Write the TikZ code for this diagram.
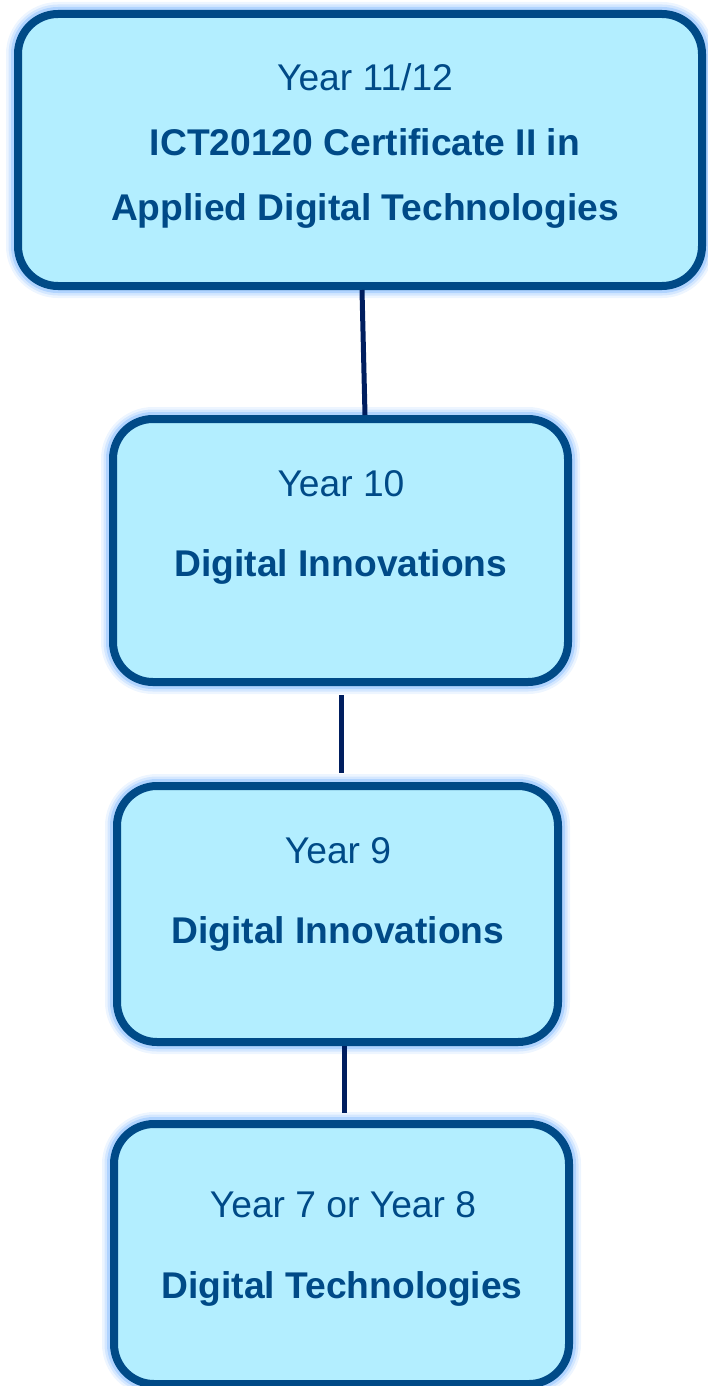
\documentclass[tikz,border=0pt]{standalone}
\usepackage{fontspec}
\setmainfont{Liberation Sans}
\usepackage{tikz}
\usetikzlibrary{positioning}

\definecolor{boxfill}{RGB}{179,238,255}
\definecolor{boxline}{RGB}{0,74,135}
\definecolor{glow}{RGB}{110,175,255}
\definecolor{joinline}{RGB}{0,30,95}

\tikzset{
    yearbox/.style={draw=boxline,fill=boxfill,line width=8pt,rounded corners=40pt,inner sep=0pt,
        preaction={draw=glow,line width=24pt,draw opacity=0.12},
        preaction={draw=glow,line width=19pt,draw opacity=0.2},
        preaction={draw=glow,line width=14pt,draw opacity=0.35}},
    yeartext/.style={text=boxline,anchor=base,inner sep=0pt,font=\fontsize{37.2}{44}\selectfont},
    coursetext/.style={yeartext,font=\fontsize{37.2}{44}\selectfont\bfseries},
    joinline/.style={draw=joinline,line width=5pt}
}

\begin{document}
\begin{tikzpicture}[x=1pt,y=-1pt]
        \useasboundingbox (0,0) rectangle (707,1386);

        % the four year boxes
        \node [yearbox,minimum width=684pt,minimum height=272pt] (y12) at (360,150) {};
        \node [yearbox,minimum width=455pt,minimum height=263pt] (y10) at (340.5,550.5) {};
        \node [yearbox,minimum width=441pt,minimum height=256pt] (y9) at (337.5,914) {};
        \node [yearbox,minimum width=455pt,minimum height=260pt] (y7) at (341.5,1254) {};

        \node [yeartext] (y12a) at (365,91) {Year 11/12};
        \node [coursetext] (y12b) at (365,155) {ICT20120 Certificate II in};
        \node [coursetext] (y12c) at (365,220) {Applied Digital Technologies};

        \node [yeartext] (y10a) at (341,496) {Year 10};
        \node [coursetext] (y10b) at (341,576) {Digital Innovations};

        \node [yeartext] (y9a) at (338,863) {Year 9};
        \node [coursetext] (y9b) at (338,943) {Digital Innovations};

        \node [yeartext] (y7a) at (343,1217) {Year 7 or Year 8};
        \node [coursetext] (y7b) at (342,1298) {Digital Technologies};

        % connectors
        \draw [joinline] ([xshift=2pt]y12.south) -- ([xshift=24.5pt]y10.north);
        \draw [joinline,shorten <=9pt,shorten >=9pt] ([xshift=0.5pt]y10.south) -- ([xshift=3.5pt]y9.north);
        \draw [joinline,shorten >=7pt] ([xshift=7pt]y9.south) -- ([xshift=3pt]y7.north);
    \end{tikzpicture}
\end{document}
